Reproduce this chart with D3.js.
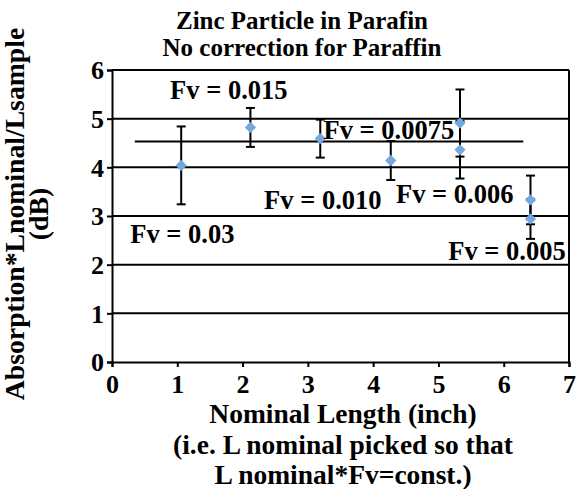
<!DOCTYPE html>
<html>
<head>
<meta charset="utf-8">
<script src="https://cdn.jsdelivr.net/npm/d3@7"></script>
<style>
  html, body { margin: 0; padding: 0; background: #fff; }
</style>
</head>
<body>
<svg id="chart" width="576" height="489"></svg>
<script>
// ---- data ----
const lengths = [1.06, 2.12, 3.19, 4.27, 5.33, 5.33, 6.41, 6.41];
const absorption = [4.04, 4.82, 4.59, 4.14, 4.91, 4.36, 3.33, 2.94];
const errors = [0.80, 0.40, 0.39, 0.40, 0.69, 0.59, 0.50, 0.41];
const meanLineX = [0.35, 6.30];
const meanLineY = [4.53, 4.53];
const labelTexts = ["Fv = 0.03", "Fv = 0.015", "Fv = 0.010", "Fv = 0.0075", "Fv = 0.006", "Fv = 0.005"];
const labelX = [0.28, 0.89, 2.33, 3.24, 4.35, 5.15];
const labelY = [2.44, 5.40, 3.14, 4.58, 3.26, 2.09];
const xTicks = [0, 1, 2, 3, 4, 5, 6, 7];
const yTicks = [0, 1, 2, 3, 4, 5, 6];
const titleLines = ["Zinc Particle in Parafin", "No correction for Paraffin"];
const xTitleLines = ["Nominal Length (inch)", "(i.e. L nominal picked so that", "L nominal*Fv=const.)"];
const yTitleLines = ["Absorption*Lnominal/Lsample", "(dB)"];

const FONT = "'Liberation Serif', Tinos, 'Times New Roman', serif";

// ---- layout ----
const svg = d3.select("#chart");
const L = 112, R = 569, T = 70, B = 362;
const x = d3.scaleLinear().domain([0, 7]).range([L, R]);
const y = d3.scaleLinear().domain([0, 6]).range([B, T]);

function styleText(sel, size) {
  return sel.attr("font-family", FONT).attr("font-weight", "bold")
    .attr("font-size", size).attr("fill", "#000");
}

// gridlines
svg.append("g").selectAll("line").data(yTicks.filter(d => d > 0)).join("line")
  .attr("x1", L).attr("x2", R).attr("y1", d => y(d)).attr("y2", d => y(d))
  .attr("stroke", "#000").attr("stroke-width", 2);
// right border
svg.append("line").attr("x1", R).attr("x2", R).attr("y1", T).attr("y2", B)
  .attr("stroke", "#000").attr("stroke-width", 2);

// axes
const xAxis = svg.append("g").attr("transform", `translate(0,${B})`)
  .call(d3.axisBottom(x).tickValues(xTicks).tickSize(5).tickPadding(7).tickFormat(d3.format("d")));
const yAxis = svg.append("g").attr("transform", `translate(${L},0)`)
  .call(d3.axisLeft(y).tickValues(yTicks).tickSize(5).tickPadding(3).tickFormat(d3.format("d")));
[xAxis, yAxis].forEach(a => {
  a.attr("font-family", FONT);
  a.select(".domain").attr("stroke", "#000").attr("stroke-width", 2);
  a.selectAll(".tick line").attr("stroke", "#000").attr("stroke-width", 2);
  styleText(a.selectAll(".tick text"), 26);
});
xAxis.selectAll(".tick text").attr("dy", "0.72em");
yAxis.selectAll(".tick text").attr("dy", "0.34em");

// mean line
svg.append("line")
  .attr("x1", x(meanLineX[0])).attr("x2", x(meanLineX[1]))
  .attr("y1", y(meanLineY[0])).attr("y2", y(meanLineY[1]))
  .attr("stroke", "#000").attr("stroke-width", 2);

// error bars
const pts = lengths.map((d, i) => ({ x: d, y: absorption[i], e: errors[i] }));
const eb = svg.append("g").selectAll("g").data(pts).join("g");
eb.append("line").attr("x1", d => x(d.x)).attr("x2", d => x(d.x))
  .attr("y1", d => y(d.y + d.e)).attr("y2", d => y(d.y - d.e))
  .attr("stroke", "#000").attr("stroke-width", 2);
eb.append("line").attr("x1", d => x(d.x) - 4.5).attr("x2", d => x(d.x) + 4.5)
  .attr("y1", d => y(d.y + d.e)).attr("y2", d => y(d.y + d.e))
  .attr("stroke", "#000").attr("stroke-width", 2);
eb.append("line").attr("x1", d => x(d.x) - 4.5).attr("x2", d => x(d.x) + 4.5)
  .attr("y1", d => y(d.y - d.e)).attr("y2", d => y(d.y - d.e))
  .attr("stroke", "#000").attr("stroke-width", 2);

// diamonds
svg.append("g").selectAll("path").data(pts).join("path")
  .attr("d", d3.symbol().type(d3.symbolSquare).size(64))
  .attr("transform", d => `translate(${x(d.x)},${y(d.y)}) rotate(45)`)
  .attr("fill", "#75a8de");

// Fv labels
styleText(svg.append("g").selectAll("text").data(labelTexts).join("text"), 26.5)
  .attr("x", (d, i) => x(labelX[i])).attr("y", (d, i) => y(labelY[i]))
  .text(d => d);

// title
styleText(svg.append("g").selectAll("text").data(titleLines).join("text"), 25)
  .attr("x", 302).attr("y", (d, i) => 29 + i * 27)
  .attr("text-anchor", "middle").text(d => d);

// x title
styleText(svg.append("g").selectAll("text").data(xTitleLines).join("text"), 27.5)
  .attr("x", 343).attr("y", (d, i) => 423 + i * 30.5)
  .attr("text-anchor", "middle").text(d => d);

// y title
styleText(svg.append("g").attr("transform", "translate(0,214) rotate(-90)")
  .selectAll("text").data(yTitleLines).join("text"), 27.7)
  .attr("x", 0).attr("y", (d, i) => 24 + i * 24)
  .attr("text-anchor", "middle").text(d => d);
</script>
</body>
</html>
